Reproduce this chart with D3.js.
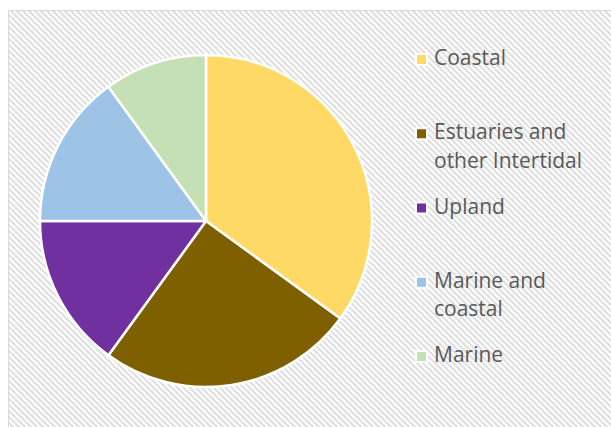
<!DOCTYPE html>
<html>
<head>
<meta charset="utf-8">
<script src="https://cdn.jsdelivr.net/npm/d3@7"></script>
<style>
  html, body { margin: 0; padding: 0; background: #fff; }
  svg { display: block; }
  .legend text { font-family: "Open Sans", sans-serif; font-size: 21px; fill: #595959; }
</style>
</head>
<body>
<svg width="611" height="427"></svg>
<script>
var categories = ["Coastal", "Estuaries and\nother Intertidal", "Upland", "Marine and\ncoastal", "Marine"];
var values = [35, 25, 15, 15, 10];
var colours = ["#ffd966", "#7f6000", "#7030a0", "#9dc3e6", "#c5e0b4"];

var svg = d3.select("svg"),
    width = +svg.attr("width"),
    height = +svg.attr("height");

// hatched chart background
var defs = svg.append("defs");
var pat = defs.append("pattern")
    .attr("id", "hatch")
    .attr("patternUnits", "userSpaceOnUse")
    .attr("width", 6)
    .attr("height", 6);
pat.append("rect").attr("width", 6).attr("height", 6).attr("fill", "#fff");
pat.append("path")
    .attr("d", "M-1,-1 L7,7 M-1,5 L1,7 M5,-1 L7,1")
    .attr("stroke", "#e0e0e0")
    .attr("stroke-width", 2.2);

svg.append("rect")
    .attr("x", 8.5)
    .attr("y", 10.5)
    .attr("width", 640)
    .attr("height", 440)
    .attr("fill", "url(#hatch)")
    .attr("stroke", "#d9d9d9");

var color = d3.scaleOrdinal().domain(categories).range(colours);

var pie = d3.pie().sort(null).value(function(d, i) { return values[i]; });
var arc = d3.arc().innerRadius(0).outerRadius(166);

svg.append("g")
    .attr("transform", "translate(206,221)")
  .selectAll("path")
  .data(pie(categories))
  .enter().append("path")
    .attr("d", arc)
    .attr("fill", function(d) { return color(d.data); })
    .attr("stroke", "#fff")
    .attr("stroke-width", 2.5)
    .attr("stroke-linejoin", "round");

// legend
var ly = d3.scalePoint().domain(categories).range([65, 362]);

var item = svg.append("g")
    .attr("class", "legend")
  .selectAll("g")
  .data(categories)
  .enter().append("g")
    .attr("transform", function(d) { return "translate(417," + ly(d) + ")"; });

item.append("rect")
    .attr("x", -2).attr("y", -12)
    .attr("width", 13).attr("height", 13)
    .attr("fill", "#fff");
item.append("rect")
    .attr("x", 0).attr("y", -10)
    .attr("width", 9).attr("height", 9)
    .attr("fill", function(d) { return color(d); });

item.append("text")
    .attr("x", 17)
    .selectAll("tspan")
    .data(function(d) { return d.split("\n"); })
    .enter().append("tspan")
      .attr("x", 17)
      .attr("y", function(d, i) { return i * 28.5; })
      .text(function(d) { return d; });
</script>
</body>
</html>
